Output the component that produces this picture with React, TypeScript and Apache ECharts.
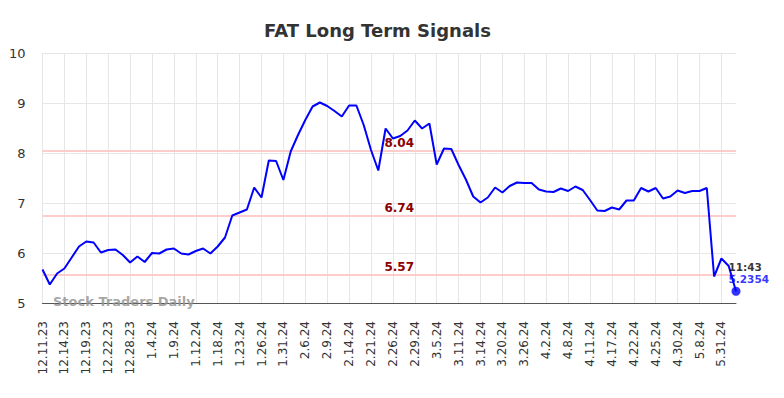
import React, { useEffect, useRef } from "react";
import * as echarts from "echarts";

const dates: string[] = [
  "12.11.23", "12.12.23", "12.13.23", "12.14.23", "12.15.23", "12.18.23",
  "12.19.23", "12.20.23", "12.21.23", "12.22.23", "12.26.23", "12.27.23",
  "12.28.23", "12.29.23", "1.3.24", "1.4.24", "1.5.24", "1.8.24",
  "1.9.24", "1.10.24", "1.11.24", "1.12.24", "1.16.24", "1.17.24",
  "1.18.24", "1.19.24", "1.22.24", "1.23.24", "1.24.24", "1.25.24",
  "1.26.24", "1.29.24", "1.30.24", "1.31.24", "2.1.24", "2.5.24",
  "2.6.24", "2.7.24", "2.8.24", "2.9.24", "2.12.24", "2.13.24",
  "2.14.24", "2.16.24", "2.20.24", "2.21.24", "2.22.24", "2.23.24",
  "2.26.24", "2.27.24", "2.28.24", "2.29.24", "3.1.24", "3.4.24",
  "3.5.24", "3.7.24", "3.8.24", "3.11.24", "3.12.24", "3.13.24",
  "3.14.24", "3.18.24", "3.19.24", "3.20.24", "3.22.24", "3.25.24",
  "3.26.24", "3.28.24", "4.1.24", "4.2.24", "4.4.24", "4.5.24",
  "4.8.24", "4.9.24", "4.10.24", "4.11.24", "4.15.24", "4.16.24",
  "4.17.24", "4.18.24", "4.19.24", "4.22.24", "4.23.24", "4.24.24",
  "4.25.24", "4.26.24", "4.29.24", "4.30.24", "5.2.24", "5.6.24",
  "5.8.24", "5.15.24", "5.23.24", "5.31.24", "6.3.24", "6.4.24",
];

const prices: number[] = [
  5.67, 5.37, 5.59, 5.69, 5.91, 6.13, 6.23, 6.21, 6.01, 6.06, 6.07, 5.96,
  5.81, 5.93, 5.82, 6.0, 5.99, 6.07, 6.09, 5.99, 5.97, 6.04, 6.09, 5.99,
  6.13, 6.31, 6.75, 6.81, 6.87, 7.31, 7.11, 7.85, 7.84, 7.46, 8.03, 8.36,
  8.66, 8.93, 9.01, 8.94, 8.84, 8.73, 8.95, 8.95, 8.56, 8.06, 7.65, 8.49,
  8.29, 8.34, 8.45, 8.65, 8.49, 8.59, 7.77, 8.09, 8.08, 7.76, 7.47, 7.13,
  7.01, 7.11, 7.31, 7.21, 7.34, 7.41, 7.4, 7.4, 7.27, 7.23, 7.22, 7.29,
  7.24, 7.33, 7.26, 7.06, 6.85, 6.84, 6.91, 6.87, 7.05, 7.05, 7.3, 7.23,
  7.3, 7.09, 7.13, 7.25, 7.2, 7.24, 7.24, 7.3, 5.53, 5.89, 5.74, 5.2354,
];

const signalLevels: number[] = [8.04, 6.74, 5.57];
const yTicks = { min: 5, max: 10, interval: 1 };
const lastTime = "11:43";
const titleText = "FAT Long Term Signals";
const watermark = "Stock Traders Daily";

const FONT = "DejaVu Sans";

export default function App() {
  const ref = useRef<HTMLDivElement>(null);
  useEffect(() => {
    if (!ref.current) return;
    const chart = echarts.init(ref.current, undefined, { renderer: "svg" });
    const lastIdx = prices.length - 1;
    const lastVal = prices[lastIdx];
    chart.setOption({
      animation: false,
      backgroundColor: "#ffffff",
      title: {
        text: titleText,
        left: 259,
        top: 16,
        textStyle: { fontFamily: FONT, fontSize: 18, fontWeight: "bold", color: "#333333" },
      },
      grid: { left: 42.5, right: 48, top: 53, bottom: 95 },
      xAxis: {
        type: "category",
        data: dates,
        boundaryGap: false,
        axisLine: { show: true, lineStyle: { color: "#555555", width: 1 } },
        axisTick: { show: false },
        axisLabel: {
          interval: 2,
          rotate: 90,
          margin: 18,
          fontFamily: FONT,
          fontSize: 12,
          color: "#333333",
        },
        splitLine: { show: true, interval: 2, lineStyle: { color: "#e6e6e6", width: 1 } },
      },
      yAxis: {
        type: "value",
        min: yTicks.min,
        max: yTicks.max,
        interval: yTicks.interval,
        axisLine: { show: false },
        axisTick: { show: false },
        axisLabel: { margin: 17, fontFamily: FONT, fontSize: 13, color: "#333333" },
        splitLine: { show: true, lineStyle: { color: "#e6e6e6", width: 1 } },
      },
      graphic: [
        {
          type: "text",
          left: 53,
          top: 295,
          z: 10,
          style: {
            text: watermark,
            fontFamily: FONT,
            fontSize: 13,
            fontWeight: "bold",
            fill: "rgba(150,150,150,0.85)",
          },
        },
      ],
      series: [
        {
          type: "line",
          data: prices,
          showSymbol: false,
          lineStyle: { color: "#0000ff", width: 2 },
          itemStyle: { color: "#0000ff" },
          z: 3,
          markLine: {
            silent: true,
            symbol: "none",
            lineStyle: { color: "#ffcccc", width: 2, type: "solid" },
            label: {
              show: true,
              position: "middle",
              distance: 2,
              offset: [10, 0],
              fontFamily: FONT,
              fontSize: 12,
              fontWeight: "bold",
              color: "#8b0000",
              formatter: (p: any) => p.value.toFixed(2),
            },
            data: signalLevels.map((v) => ({ yAxis: v })),
            z: 2,
          },
        },
        {
          type: "scatter",
          data: [[lastIdx, lastVal]],
          symbol: "circle",
          symbolSize: 9,
          itemStyle: { color: "#0000ff" },
          z: 5,
          label: {
            show: true,
            position: [-3, -26],
            align: "left",
            verticalAlign: "top",
            formatter: () => `{t|${lastTime}}\n{v|${lastVal}}`,
            rich: {
              t: { fontFamily: FONT, fontSize: 10.5, fontWeight: "bold", color: "#000000", lineHeight: 12 },
              v: { fontFamily: FONT, fontSize: 10.5, fontWeight: "bold", color: "#0000ff", lineHeight: 12 },
            },
          },
        },
      ],
    });
    return () => chart.dispose();
  }, []);
  return (
    <div
      ref={ref}
      style={{ position: "fixed", left: 0, top: 0, width: 784, height: 398 }}
    />
  );
}
